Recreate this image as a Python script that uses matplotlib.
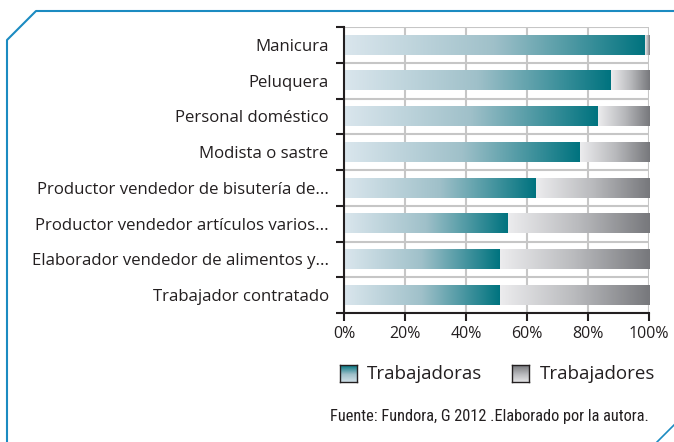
import numpy as np
import matplotlib.pyplot as plt
from matplotlib.colors import LinearSegmentedColormap
from matplotlib.lines import Line2D
from matplotlib import font_manager

plt.rcParams['font.family'] = ['Open Sans', 'DejaVu Sans']

# datos (porcentaje)
categorias = ['Manicura', 'Peluquera', 'Personal doméstico', 'Modista o sastre',
              'Productor vendedor de bisutería de...',
              'Productor vendedor artículos varios...',
              'Elaborador vendedor de alimentos y...',
              'Trabajador contratado']
trabajadoras = [98.6, 87.5, 83.2, 77.3, 62.9, 53.7, 51.1, 51.1]
trabajadores = [100 - v for v in trabajadoras]
ticks_x = [0, 20, 40, 60, 80, 100]

cmap_f = LinearSegmentedColormap.from_list('f', ['#dae6ed', '#9fc0c9', '#00737f'])
cmap_m = LinearSegmentedColormap.from_list('m', ['#ececee', '#b9babd', '#77787c'])

fig = plt.figure(figsize=(6.74, 4.42), dpi=100)
ax = fig.add_axes([344/674, 1 - 313/442, 305/674, 286/442])

y = np.arange(len(categorias))
b1 = ax.barh(y, trabajadoras, height=0.55, color='none')
b2 = ax.barh(y, trabajadores, left=trabajadoras, height=0.55, color='none')

grad = np.linspace(0, 1, 256).reshape(1, -1)
for bars, cm in [(b1, cmap_f), (b2, cmap_m)]:
    for p in bars:
        x0, yb = p.get_x(), p.get_y()
        w, h = p.get_width(), p.get_height()
        if w <= 0:
            continue
        ax.imshow(grad, cmap=cm, aspect='auto', extent=(x0, x0 + w, yb + h, yb),
                  interpolation='bicubic', zorder=2)

ax.set_xlim(0, 100)
ax.set_ylim(len(categorias) - 0.5, -0.5)
ax.set_xticks(ticks_x)
ax.set_xticklabels([f'{t}%' for t in ticks_x], fontsize=11.5, color='#231f20')
ax.set_yticks(np.arange(-0.5, len(categorias), 1))
ax.set_yticklabels([])
ax.set_yticks(y, minor=True)
ax.set_yticklabels(categorias, minor=True, fontsize=12.1, color='#231f20')
ax.tick_params(axis='y', which='minor', length=0, pad=11)
ax.tick_params(axis='y', which='major', length=6, width=1.5, color='#231f20')
ax.tick_params(axis='x', length=6, width=1.5, color='#231f20', pad=3)

ax.grid(True, which='major', color='#c6c6c6', linewidth=1.5, zorder=0)
ax.set_axisbelow(True)
for s in ['top', 'right']:
    ax.spines[s].set_visible(False)
for s in ['left', 'bottom']:
    ax.spines[s].set_color('#231f20')
    ax.spines[s].set_linewidth(1.5)

# leyenda
def swatch(x, cm):
    a = fig.add_axes([x/674, 1 - 382/442, 17/674, 17/442])
    a.imshow(np.linspace(1, 0, 64).reshape(-1, 1), cmap=cm, aspect='auto',
             vmin=-0.1, vmax=1)
    for s in a.spines.values():
        s.set_color('#231f20')
        s.set_linewidth(1)
    a.set_xticks([])
    a.set_yticks([])

swatch(340, cmap_f)
swatch(512, cmap_m)
fig.text(367/674, 1 - 374/442, 'Trabajadoras', fontsize=13.5, va='center', color='#231f20')
fig.text(540/674, 1 - 374/442, 'Trabajadores', fontsize=13.5, va='center', color='#231f20')

# fuente condensada si existe
nombres = {f.name for f in font_manager.fontManager.ttflist}
cond = [n for n in ['Roboto Condensed', 'Liberation Sans Narrow', 'Open Sans Condensed']
        if n in nombres]
if cond:
    fam, fs = [cond[0], 'DejaVu Sans'], 11.8
else:
    fam, fs = ['Roboto', 'DejaVu Sans'], 10.5
fig.text(649/674, 1 - 417/442, 'Fuente: Fundora, G 2012 .Elaborado por la autora.',
         fontsize=fs, ha='right', va='center', color='#231f20', family=fam)

# marco
azul = '#1b8bc1'
fig.add_artist(Line2D([7/674, 7/674, 36/674, 1], [0, 1 - 40/442, 1 - 11/442, 1 - 11/442],
                      color=azul, linewidth=1.5, transform=fig.transFigure))
fig.add_artist(Line2D([657/674, 1], [0, 17/442], color=azul, linewidth=1.2,
                      transform=fig.transFigure))

fig.savefig('out.png', dpi=100)
